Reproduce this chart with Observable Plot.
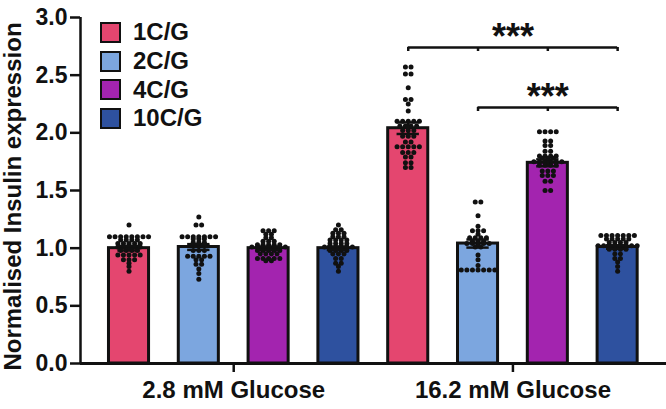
<!DOCTYPE html>
<html>
<head>
<meta charset="utf-8">
<script src="https://cdn.jsdelivr.net/npm/d3@7"></script>
<script src="https://cdn.jsdelivr.net/npm/@observablehq/plot@0.6"></script>
<style>
  body { margin: 0; background: white; }
  #chart { position: relative; width: 666px; height: 409px; font-family: "Liberation Sans", Arial, sans-serif; }
  .legend { position: absolute; left: 100px; top: 18px; }
  .legend .row { display: flex; align-items: center; height: 28.7px; }
  .legend .sw { width: 17px; height: 17px; border: 2.5px solid #111; box-sizing: content-box; }
  .legend .lab { margin-left: 12px; font-weight: bold; font-size: 24px; color: #111; }
</style>
</head>
<body>
<div id="chart"></div>
<script>
// grupos y condiciones
const groups = ["1C/G", "2C/G", "4C/G", "10C/G"]
const conditions = ["2.8 mM Glucose", "16.2 mM Glucose"]
const colors = ["#E4466F", "#7CA6DF", "#A324AF", "#2E519F"]

// medias y SEM (condicion x grupo)
const means = [[1.00, 1.01, 1.00, 1.00], [2.04, 1.04, 1.74, 1.01]]
const sems = [[0.02, 0.025, 0.015, 0.015], [0.05, 0.035, 0.03, 0.015]]

// puntos individuales, un array por barra
const g28_1C = [1.20, 1.10,1.10,1.10,1.10,1.10,1.10,1.10,1.10, 1.07,1.07,1.07,1.07, 1.04,1.04,1.04,1.04,1.04, 1.01,1.01,1.01,1.01,1.01, 0.98,0.98,0.98,0.98, 0.94,0.94,0.94,0.94,0.94, 0.90,0.90,0.90, 0.87, 0.84, 0.80]
const g28_2C = [1.27, 1.20,1.20, 1.10,1.10,1.10,1.10,1.10,1.10,1.10, 1.08,1.08,1.08, 1.05,1.05,1.05, 1.02,1.02,1.02,1.02, 0.98,0.98,0.98, 0.93,0.93,0.93,0.93,0.93, 0.90,0.90, 0.86,0.86, 0.82, 0.78, 0.73]
const g28_4C = [1.15,1.15,1.15, 1.12,1.12, 1.09,1.09, 1.06,1.06,1.06, 1.03,1.03,1.03,1.03,1.03, 1.01,1.01,1.01,1.01,1.01,1.01,1.01, 0.98,0.98,0.98,0.98,0.98, 0.95,0.95,0.95,0.95, 0.91,0.91,0.91,0.91,0.91, 0.89,0.89]
const g28_10C = [1.20, 1.16,1.16, 1.13,1.13,1.13, 1.10,1.10,1.10, 1.07,1.07,1.07,1.07, 1.04,1.04,1.04,1.04, 1.01,1.01,1.01,1.01,1.01,1.01, 0.98,0.98,0.98,0.98, 0.95,0.95,0.95, 0.91,0.91, 0.87,0.87, 0.84, 0.80]
const g162_1C = [2.57,2.57, 2.51,2.51, 2.39, 2.29,2.29, 2.25, 2.19, 2.10,2.10,2.10,2.10,2.10, 2.06,2.06,2.06,2.06, 2.02,2.02,2.02, 1.97,1.97,1.97, 1.92,1.92, 1.88,1.88,1.88,1.88,1.88, 1.83,1.83,1.83, 1.79,1.79, 1.74,1.74, 1.70,1.70]
const g162_2C = [1.40,1.40, 1.28, 1.19, 1.15,1.15,1.15, 1.12, 1.09,1.09,1.09,1.09, 1.06,1.06,1.06, 1.04,1.04,1.04,1.04,1.04, 1.01,1.01, 0.94, 0.90, 0.85, 0.81,0.81,0.81,0.81,0.81,0.81,0.81]
const g162_4C = [2.01,2.01,2.01,2.01, 1.93,1.93, 1.89,1.89, 1.84,1.84, 1.80,1.80,1.80,1.80, 1.78,1.78,1.78, 1.75,1.75,1.75,1.75,1.75,1.75, 1.72,1.72,1.72,1.72, 1.67,1.67,1.67, 1.63,1.63,1.63, 1.58,1.58, 1.50,1.50]
const g162_10C = [1.11,1.11,1.11,1.11,1.11,1.11,1.11, 1.08,1.08,1.08,1.08,1.08, 1.05,1.05,1.05,1.05, 1.02,1.02,1.02,1.02,1.02,1.02,1.02,1.02, 0.99,0.99,0.99,0.99, 0.95,0.95, 0.91,0.91, 0.88, 0.84, 0.80]
const points = [g28_1C, g28_2C, g28_4C, g28_10C, g162_1C, g162_2C, g162_4C, g162_10C]

// comparaciones significativas (indices de barra)
const brackets = [
  {from: 4, to: 7, y: 2.74, starY: 2.83, label: "***"},
  {from: 5, to: 7, y: 2.22, starY: 2.31, label: "***"}
]

// tabla de barras
const bars = []
conditions.forEach((c, ci) => groups.forEach((g, gi) => {
  const m = means[ci][gi], s = sems[ci][gi]
  bars.push({i: ci * groups.length + gi, group: g, cond: c, mean: m, lo: m - s, hi: m + s})
}))

// puntos dispersos en filas (estilo GraphPad)
const step = 0.08
const dots = []
points.forEach((vals, k) => {
  const rows = d3.group(vals, v => v)
  for (const [v, arr] of rows) {
    arr.forEach((_, j) => dots.push({x: k + (j - (arr.length - 1) / 2) * step, y: v}))
  }
})

const bracketTicks = brackets.flatMap(b => d3.range(b.from, b.to + 1).map(i => ({x: i, y1: b.y, y2: b.y - 0.035})))
const condTicks = conditions.map((c, ci) => ci * groups.length + (groups.length - 1) / 2)
const xDomain = [-0.695, 7.70]
const half = 0.287

let chart = Plot.plot({
  width: 666,
  height: 409,
  marginTop: 17,
  marginBottom: 46,
  marginLeft: 80,
  marginRight: 0,
  style: {fontFamily: "Liberation Sans, Arial, sans-serif", fontWeight: "bold", color: "#111", background: "white"},
  x: {domain: xDomain},
  y: {domain: [0, 3]},
  color: {domain: groups, range: colors},
  marks: [
    Plot.rectY(bars, {x1: d => d.i - half, x2: d => d.i + half, y1: 0, y2: "mean", fill: "group", stroke: "#111", strokeWidth: 3}),
    Plot.dot(dots, {x: "x", y: "y", r: 2.5, fill: "#111", stroke: "none"}),
    Plot.ruleX(bars, {x: "i", y1: "lo", y2: "hi", stroke: "#111", strokeWidth: 2.5}),
    Plot.ruleY(bars, {y: "hi", x1: d => d.i - 0.16, x2: d => d.i + 0.16, stroke: "#111", strokeWidth: 2.5}),
    Plot.ruleY(bars, {y: "lo", x1: d => d.i - 0.16, x2: d => d.i + 0.16, stroke: "#111", strokeWidth: 2.5}),
    Plot.ruleY(brackets, {y: "y", x1: "from", x2: "to", stroke: "#111", strokeWidth: 2.5}),
    Plot.ruleX(bracketTicks, {x: "x", y1: "y1", y2: "y2", stroke: "#111", strokeWidth: 2.5}),
    Plot.text(brackets, {x: d => (d.from + d.to) / 2, y: "starY", text: "label", fontSize: 36, fontWeight: "bold", fill: "#111"}),
    Plot.ruleY([0], {stroke: "#111", strokeWidth: 3}),
    Plot.ruleX([xDomain[0]], {y1: 0, y2: 3, stroke: "#111", strokeWidth: 2.5}),
    Plot.axisY({ticks: [0, 0.5, 1, 1.5, 2, 2.5, 3], tickFormat: ".1f", tickSize: 10, tickPadding: 3, fontSize: 23, strokeWidth: 2.5, label: null}),
    Plot.axisX({ticks: condTicks, tickFormat: d => conditions[condTicks.indexOf(d)], tickSize: 9, tickPadding: 8, fontSize: 24, strokeWidth: 2.5, label: null}),
    Plot.text(["Normalised Insulin expression"], {frameAnchor: "left", textAnchor: "middle", lineAnchor: "middle", text: d => d, rotate: -90, dx: -67, dy: 6, fontSize: 24, fontWeight: "bold", fill: "#111"})
  ]
})

const root = d3.select('#chart')
root.append(() => chart)

// leyenda
const legend = root.append('div').attr('class', 'legend')
groups.forEach((g, gi) => {
  const row = legend.append('div').attr('class', 'row')
  row.append('div').attr('class', 'sw').style('background', colors[gi])
  row.append('span').attr('class', 'lab').text(g)
})
</script>
</body>
</html>
